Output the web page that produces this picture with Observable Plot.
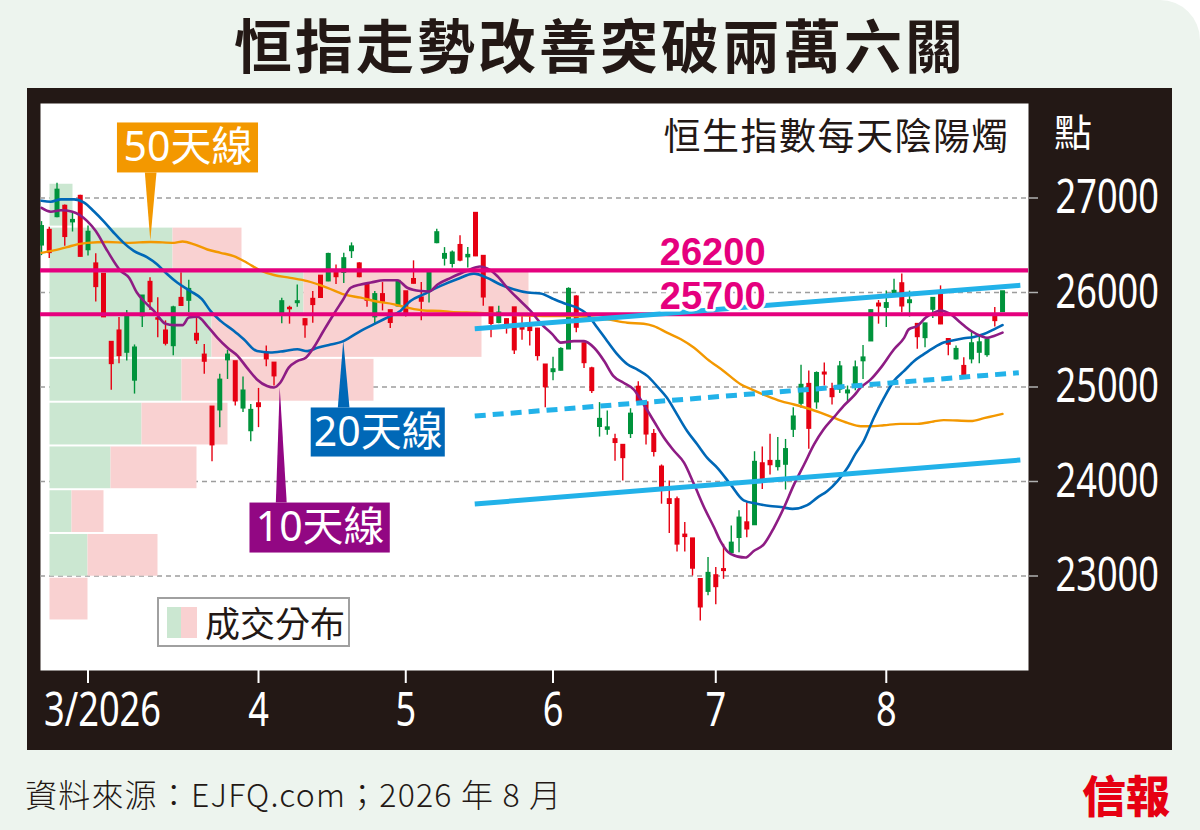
<!DOCTYPE html>
<html><head><meta charset="utf-8">
<script src="https://cdn.jsdelivr.net/npm/d3@7"></script>
<script src="https://cdn.jsdelivr.net/npm/@observablehq/plot@0.6"></script>
<style>
body{margin:0;background:#fff;}
#page{position:relative;width:1200px;height:830px;background:#edf4ee;border-top-right-radius:40px;overflow:hidden;font-family:"Noto Sans CJK TC",sans-serif;color:#231815;}
#title{position:absolute;left:0;top:12px;width:1200px;text-align:center;font-size:58px;line-height:62px;font-weight:700;letter-spacing:3px;}
#frame{position:absolute;left:27px;top:88px;width:1145px;height:662px;background:#231815;}
.layer{position:absolute;left:0;top:88px;}
#sub{position:absolute;right:190px;top:112px;font-size:37px;line-height:44px;letter-spacing:1.5px;}
#unit{position:absolute;left:1054px;top:108px;font-size:38px;line-height:44px;color:#fff;}
#legend{position:absolute;left:157px;top:597px;width:189px;height:46px;border:2px solid #a0a0a0;background:#fff;}
#legend .g{position:absolute;left:8px;top:8px;width:14px;height:31px;background:#cbe7d1;}
#legend .p{position:absolute;left:22px;top:8px;width:16px;height:31px;background:#f9d1d1;}
#legend .t{position:absolute;left:46px;top:0px;font-size:35px;line-height:46px;}
#foot{position:absolute;left:25px;top:773px;font-size:32px;line-height:40px;font-weight:300;letter-spacing:1.2px;}
#logo{position:absolute;left:1082px;top:766px;font-size:44px;line-height:56px;font-weight:900;color:#e60012;}
</style></head>
<body><div id="page">
<div id="title">恒指走勢改善突破兩萬六關</div>
<div id="frame"></div>
<div id="base" class="layer"></div>
<div id="main" class="layer"></div>
<div id="sub">恒生指數每天陰陽燭</div>
<div id="unit">點</div>
<div id="legend"><div class="g"></div><div class="p"></div><div class="t">成交分布</div></div>
<div id="foot">資料來源：EJFQ.com；2026 年 8 月</div>
<div id="logo">信報</div>
</div>
<script>
// ---- daily candles (trading-day index 0..124) ----
const open  = [26500,26660,26800,26915,26745,27020,26450,26305,26195,25475,25595,25365,25070,25750,26110,25725,25595,25435,25940,25915,25560,25340,24790,24755,25285,25270,24775,24535,24825,25355,25255,25785,25835,25890,25715,25930,26175,26120,26235,26210,26440,26305,26085,25740,25980,25810,25855,26010,26140,25945,26015,26525,26360,26305,26500,26375,26840,26385,25840,25680,25715,25840,25635,25630,25615,25235,25160,25175,25400,25955,25460,25195,24580,24550,24445,24385,24505,25000,24835,24500,24155,23810,23810,23435,23395,22965,22835,23005,23070,23245,23405,23565,23540,24190,24215,24155,24180,24550,24825,25030,24840,25150,24975,24975,24935,24995,25275,25485,25880,25840,25980,26095,25890,25665,25520,25820,25980,25505,25295,25220,25295,25365,25340,25750,25795];
const high  = [26750,26690,27156,26925,26845,27030,26705,26410,26200,25480,25735,25810,25445,25965,26155,25945,25700,25855,26210,26130,25735,25450,24790,25135,25390,25270,25105,24815,24985,25435,25255,25940,25855,26080,25725,26010,26180,26415,26290,26415,26525,26315,26085,26010,26105,25810,26130,26010,26335,26105,26215,26670,26475,26440,26600,26475,26845,26390,25840,25855,25720,25840,25750,25750,25620,25235,25315,25415,26050,25965,25465,25210,24835,24745,24500,24390,24770,25055,24835,24550,24175,24005,23835,23565,23395,22965,23195,23090,23335,23530,23690,23775,24315,24365,24500,24465,24445,24780,25230,25170,25160,25255,25040,25270,25010,25275,25440,25815,25915,26015,26140,26195,26015,25665,25675,25945,26070,25505,25435,25310,25585,25540,25505,25840,26010];
const low   = [26390,26360,26790,26490,26640,26375,26385,25900,25735,24965,25245,25275,24925,25630,25810,25520,25435,25330,25855,25785,25450,25135,24210,24570,25080,24800,24730,24420,24570,25215,25010,25670,25665,25845,25515,25675,25940,26115,26085,26095,26360,26155,25845,25655,25805,25620,25850,25740,26090,25700,25890,26515,26280,26260,26325,26260,26380,25855,25520,25670,25560,25345,25495,25435,25275,24780,25065,25170,25400,25575,25195,24930,24470,24490,24215,24005,24455,24815,24385,24260,23760,23450,23255,23255,23000,22524,22790,22695,22965,23235,23245,23405,23535,23915,24070,24110,23910,24465,24775,24340,24765,25010,24810,24930,24835,24960,25080,25485,25665,25630,25975,25785,25740,25400,25415,25725,25660,25330,25285,25105,25245,25245,25315,25635,25795];
const close = [26700,26420,27085,26590,26765,26380,26640,26060,25740,25245,25330,25750,25415,25965,25900,25715,25460,25840,25860,26035,25495,25270,24385,25075,25340,24850,24960,24755,24790,25295,25115,25905,25825,25905,25655,25870,25945,26405,26165,26360,26485,26165,25915,25980,25905,25680,26120,25785,26095,25905,26210,26635,26405,26420,26340,26395,26385,25950,25670,25785,25665,25390,25610,25595,25330,25000,25185,25400,26035,25630,25255,24960,24660,24570,24410,24250,24715,24850,24500,24315,23940,23765,23335,23415,23080,22670,23030,22885,23055,23350,23615,23495,24205,24025,24175,24215,24340,24685,25020,24560,25145,25135,24895,25215,24960,25205,25310,25810,25855,25885,26015,25855,25915,25530,25670,25940,25665,25450,25400,25115,25460,25470,25495,25700,26010];

// ---- moving averages: [trading-day, value] ----
const ma10Day = [0,1.2,2.5,4,5.9,7,8.5,10.2,11.3,12.3,13.2,14.5,16,17.1,18.2,19,20.1,21.4,22.7,24,25.3,26.5,27.8,29.1,30,30.8,31.9,33,34.1,35.1,36.4,37.7,38.8,39.9,41.2,42.5,44.2,45.9,47.2,48.9,50,51.1,52.8,54.9,56.6,57.5,58.8,60.1,61.8,63.1,64.5,65.9,67,68.7,70,71.3,72.6,73.8,75.1,76.4,77.7,79,80.3,81.6,82.9,84.2,85.5,86.8,87.6,88.9,90.8,91.9,93.2,94.5,95.8,97.1,98.4,99.7,100.9,102.2,103.5,104.8,105.7,107,108.3,110,111.3,111.9,113,114.1,115.1,116,117.3,118.6,119.9,121.2,122,122.9,124];
const ma10Val = [26895,26855,26870,26855,26755,26650,26440,26230,26155,26000,25910,25805,25670,25655,25655,25735,25745,25645,25520,25415,25330,25205,25080,25010,24995,25045,25205,25275,25310,25415,25595,25770,25910,26050,26085,26105,26130,26130,26050,26015,26010,26085,26155,26230,26275,26255,26175,26050,25910,25805,25665,25560,25470,25485,25485,25415,25275,25115,25045,24975,24815,24640,24465,24325,24200,23970,23725,23510,23370,23235,23195,23265,23335,23510,23725,23970,24180,24395,24550,24675,24800,24905,24995,25080,25205,25400,25520,25610,25645,25735,25785,25810,25770,25680,25595,25540,25520,25540,25575];
const ma20Day = [0,1.2,2.5,4.2,5.5,6.75,8,9.3,10.6,11.9,13.6,14.9,16.2,17.5,19.2,20.7,21.8,23.1,24.8,26.1,27.8,29.5,31.3,33,34.3,35.6,37.3,38.8,39.7,41.2,42.9,44.6,46.3,47.6,49.3,51.5,53.6,55.8,57.5,59.2,60.9,62.7,64.4,66.1,67.8,69.1,70.4,71.7,73,74.3,75.6,76.9,78.2,79.4,80.7,82,83.3,84.6,85.9,87.2,88.9,90.6,92.3,94,95.4,96.9,98.8,100.1,101.4,102.7,104,105,106.1,107.4,108.7,110,111.3,112.6,113.8,115.1,116.4,117.7,119,120.3,121.6,122.9,124];
const ma20Val = [26970,26960,26985,26985,26950,26860,26755,26635,26525,26440,26375,26300,26195,26105,26015,25930,25805,25700,25595,25505,25380,25365,25380,25400,25380,25415,25450,25480,25520,25595,25665,25735,25805,25910,25980,26070,26140,26200,26155,26085,26035,26000,25990,25930,25875,25840,25770,25630,25485,25345,25240,25185,25115,25010,24885,24710,24535,24395,24250,24145,23970,23800,23765,23740,23730,23710,23750,23830,23900,24005,24145,24290,24430,24675,24885,25065,25170,25275,25345,25415,25470,25495,25515,25530,25560,25610,25655];
const ma50Day = [0,1.6,3.3,4.6,5.9,8.5,11.1,14.1,17.1,18.2,19.7,21.4,23.1,24.8,26.5,28.3,30,32.1,34.3,36.9,39,41.2,42.9,45.5,47.2,49.3,51.5,52.8,56,62,66,68.7,73,75.6,77.7,79,80.7,82.5,84.2,85.9,88,90.2,91.9,93.6,95.4,97.1,98.8,100.5,102.2,104,105.7,107,108.7,110.8,113,115.1,116.4,119.9,121.6,122.9,124];
const ma50Val = [26420,26445,26480,26510,26525,26535,26525,26535,26525,26540,26510,26455,26420,26385,26315,26230,26185,26155,26120,26050,25980,25945,25910,25875,25840,25810,25805,25795,25785,25760,25750,25750,25715,25680,25670,25645,25575,25505,25415,25295,25170,25030,24965,24905,24850,24815,24775,24730,24675,24620,24585,24585,24595,24610,24610,24635,24650,24640,24670,24695,24715];

// ---- volume profile (成交分布): price bands and up/down volume ----
const bandLo   = [22524,22987,23450,23913,24376,24839,25303,25766,26229,26692];
const bandHi   = [22987,23450,23913,24376,24839,25303,25766,26229,26692,27156];
const volUp    = [0,38,22,61,92,132,162,254,123,23];
const volDown  = [38,70,32,86,86,192,270,225,69,0];

// ---- levels and trend lines ----
const levelLabel = ["26200","25700"];
const levelDrawn = [26235,25770];
const levelLabelDay = [86.6,86.6];
const trendDay1 = [55.9,55.9,55.9], trendVal1 = [25617,24693,23762];
const trendDay2 = [126.3,126.1,126.3], trendVal2 = [26076,25151,24228];
const trendDashed = [false,true,false];

// ---- axes ----
const yTicks = [23000,24000,25000,26000,27000];
const monthTickDay = [6,28,47,66,87,109];
const monthTickLabel = ["3/2026","4","5","6","7","8"];

// ---- callouts ----
const annText = ["50天線","20天線","10天線"];
const annColor = ["#f39800","#0068b7","#920783"];
const annDay1 = [9.8,34.8,26.9], annDay2 = [28,52.1,45];
const annLo = [27265,24259,23243], annHi = [27794,24778,23772];
const annBaseDay1 = [13.4,38.3,30.3], annBaseDay2 = [14.9,39.8,31.7];
const annTipDay = [14.1,39.0,30.8], annTipVal = [26545,25487,24993];

const G = "#00933b", R = "#e60012";
const SANS = '"Noto Sans","Noto Sans CJK TC",sans-serif';
const W = 1200, H = 662, M = {marginTop:15, marginBottom:80, marginLeft:40, marginRight:172};
const yScale = {domain:[22000,28000]};

const bands = bandLo.map((lo,i)=>({lo, hi:bandHi[i], up:volUp[i], dn:volDown[i]}));
const base = Plot.plot({
  width:W, height:H, ...M,
  style:{background:"transparent", overflow:"visible"},
  x:{domain:[0,500], range:[49.5,549.5], axis:null},
  y:{...yScale, axis:null},
  marks:[
    Plot.frame({fill:"white", stroke:null}),
    Plot.ruleY(yTicks, {stroke:"#9d9d9d", strokeWidth:1.5, strokeDasharray:"5,4"}),
    Plot.rect(bands.filter(d=>d.up>0), {x1:0, x2:"up", y1:"lo", y2:"hi", fill:"#cbe7d1", insetTop:1, insetBottom:1}),
    Plot.rect(bands.filter(d=>d.dn>0), {x1:"up", x2:d=>d.up+d.dn, y1:"lo", y2:"hi", fill:"#f9d1d1", insetTop:1, insetBottom:1})
  ]
});
document.getElementById("base").append(base);

const candles = open.map((o,i)=>({day:i, o, h:high[i], l:low[i], c:close[i]}));
const ups = candles.filter(d=>d.c>=d.o), downs = candles.filter(d=>d.c<d.o);
const series = (days, vals) => days.map((d,i)=>({day:d, v:vals[i]}));
const trends = trendDay1.map((d,i)=>({x1:d, y1:trendVal1[i], x2:trendDay2[i], y2:trendVal2[i], dashed:trendDashed[i]}));
const levels = levelLabel.map((t,i)=>({label:t, v:levelDrawn[i], day:levelLabelDay[i]}));
const anns = annText.map((t,i)=>({text:t, color:annColor[i], x1:annDay1[i], x2:annDay2[i], lo:annLo[i], hi:annHi[i],
  bx1:annBaseDay1[i], bx2:annBaseDay2[i], tx:annTipDay[i], ty:annTipVal[i]}));

const candleMarks = (data, color) => [
  Plot.ruleX(data, {x:"day", y1:"l", y2:"h", stroke:color, strokeWidth:1.4, clip:true}),
  Plot.ruleX(data, {x:"day", y1:d=>Math.max(d.o,d.c), y2:d=>Math.min(d.o,d.c), stroke:color, strokeWidth:5, insetTop:-0.8, insetBottom:-0.8, clip:true})
];

const annMarks = anns.flatMap(a => {
  const baseV = a.ty < a.lo ? a.lo : a.hi;
  return [
    Plot.areaX([{y:baseV, x1:a.bx1, x2:a.bx2},{y:a.ty, x1:a.tx, x2:a.tx}], {y:"y", x1:"x1", x2:"x2", fill:a.color}),
    Plot.rect([a], {x1:"x1", x2:"x2", y1:"lo", y2:"hi", fill:a.color}),
    Plot.text([a], {x:d=>(d.x1+d.x2)/2, y:d=>(d.lo+d.hi)/2, text:"text", fill:"white", fontSize:41, fontFamily:SANS})
  ];
});

const xLabel = d => monthTickLabel[monthTickDay.indexOf(d)];
const labelStyle = {tickSize:0, tickPadding:22, fill:"white", fontSize:47, fontFamily:SANS, label:null, tickFormat:xLabel};

const main = Plot.plot({
  width:W, height:H, ...M,
  style:{background:"transparent", overflow:"visible"},
  x:{domain:[-0.13,127.35]},
  y:yScale,
  marks:[
    ...candleMarks(ups, G),
    ...candleMarks(downs, R),
    Plot.line(series(ma50Day, ma50Val), {x:"day", y:"v", stroke:"#f39800", strokeWidth:2.4, curve:"monotone-x"}),
    Plot.line(series(ma20Day, ma20Val), {x:"day", y:"v", stroke:"#0068b7", strokeWidth:2.6, curve:"monotone-x"}),
    Plot.line(series(ma10Day, ma10Val), {x:"day", y:"v", stroke:"#8e1c84", strokeWidth:2.6, curve:"monotone-x"}),
    Plot.ruleY(levels, {y:"v", stroke:"#e5007e", strokeWidth:4.2}),
    Plot.link(trends.filter(d=>!d.dashed), {x1:"x1", y1:"y1", x2:"x2", y2:"y2", stroke:"#22b2e9", strokeWidth:5}),
    Plot.link(trends.filter(d=>d.dashed), {x1:"x1", y1:"y1", x2:"x2", y2:"y2", stroke:"#22b2e9", strokeWidth:5, strokeDasharray:"11,7"}),
    Plot.text(levels, {x:"day", y:"v", text:"label", dy:-17, fill:"#e5007e", stroke:"white", strokeWidth:5, fontSize:38, fontWeight:"bold", fontFamily:'"Liberation Sans",Arial,sans-serif'}),
    ...annMarks,
    Plot.axisX(monthTickDay, {tickSize:13, stroke:"white", strokeWidth:2, tickFormat:()=>"", label:null}),
    Plot.axisX(monthTickDay.slice(0,1), {...labelStyle, textAnchor:"start", dx:-44}),
    Plot.axisX(monthTickDay.slice(1), labelStyle),
    Plot.axisY(yTicks, {anchor:"right", tickSize:9, tickPadding:18, stroke:"#b0b0b0", strokeWidth:1.5, tickFormat:d=>String(d), fill:"white", fontSize:47, fontFamily:SANS, label:null})
  ]
});
document.getElementById("main").append(main);

// condense the tick labels horizontally (the reference uses a narrow face)
main.querySelectorAll('g[aria-label$="tick label"] text').forEach(t => {
  const w = t.getComputedTextLength();
  if (w > 0) {
    t.setAttribute("textLength", (w * 0.77).toFixed(1));
    t.setAttribute("lengthAdjust", "spacingAndGlyphs");
  }
});
</script>
</body></html>
